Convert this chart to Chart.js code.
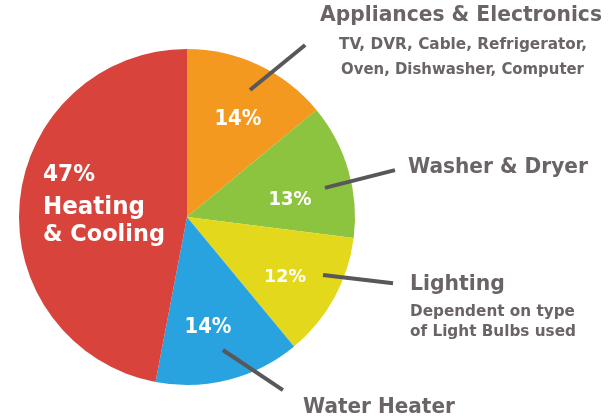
<!DOCTYPE html>
<html>
<head>
<meta charset="utf-8">
<script src="https://cdn.jsdelivr.net/npm/chart.js@4/dist/chart.umd.min.js"></script>
<style>
  html, body { margin: 0; padding: 0; background: #fff; }
  #wrap { width: 616px; height: 416px; position: relative; }
</style>
</head>
<body>
<div id="wrap"><canvas id="chart-energy"></canvas></div>
<script>
const categories = ['Appliances & Electronics', 'Washer & Dryer', 'Lighting', 'Water Heater', 'Heating & Cooling'];
const shares = [14, 13, 12, 14, 47];
const sliceColors = ['#f4991f', '#8cc43f', '#e3d81c', '#29a3df', '#d8433b'];

// side notes under some category names
const notes = [
  ['TV, DVR, Cable, Refrigerator,', 'Oven, Dishwasher, Computer'],
  [],
  ['Dependent on type', 'of Light Bulbs used'],
  [],
  []
];

const GREY = '#6b6465';
const FONT = '"DejaVu Sans", sans-serif';
const STRETCH = 1.05; // the original lettering is a bit taller than DejaVu

// draw bold text so that it spans a given width
function fitText(ctx, text, x, yMid, width, align, color) {
  ctx.font = 'bold 20px ' + FONT;
  const size = 20 * width / ctx.measureText(text).width;
  ctx.save();
  ctx.font = 'bold ' + size.toFixed(2) + 'px ' + FONT;
  ctx.fillStyle = color;
  ctx.textAlign = align;
  ctx.textBaseline = 'alphabetic';
  ctx.translate(x, yMid);
  ctx.scale(1, STRETCH);
  ctx.fillText(text, 0, size * 0.365);
  ctx.restore();
}

function polar(cx, cy, r, deg, frac) {
  const t = (deg - 90) * Math.PI / 180;
  return [cx + Math.cos(t) * r * frac, cy + Math.sin(t) * r * frac];
}

// where the in-slice percentages sit (deg clockwise from top, fraction of radius)
const pctSpots = [[27, 0.668], [79.5, 0.623], [120.6, 0.678], [169, 0.655]];
const pctWidths = [47, 43, 42, 47];
// leader lines, polar from / to
const leaders = [
  [[26.4, 0.844], [34.5, 1.242]],
  [[78.1, 0.839], [77.3, 1.269]],
  [[113.1, 0.88], [107.8, 1.288]],
  [[164.9, 0.82], [151, 1.178]]
];

const labelPlugin = {
  id: 'sliceLabels',
  afterDraw(chart) {
    const ctx = chart.ctx;
    const arc = chart.getDatasetMeta(0).data[0];
    const cx = arc.x, cy = arc.y, r = arc.outerRadius;
    const k = r / 168;
    ctx.save();

    // leader lines
    ctx.strokeStyle = '#58585a';
    ctx.lineWidth = 4;
    ctx.lineCap = 'butt';
    leaders.forEach(([a, b]) => {
      const p = polar(cx, cy, r, a[0], a[1]);
      const q = polar(cx, cy, r, b[0], b[1]);
      ctx.beginPath();
      ctx.moveTo(p[0], p[1]);
      ctx.lineTo(q[0], q[1]);
      ctx.stroke();
    });

    // percentages inside the small slices
    pctSpots.forEach((s, i) => {
      const p = polar(cx, cy, r, s[0], s[1]);
      fitText(ctx, shares[i] + '%', p[0], p[1], pctWidths[i] * k, 'center', '#fff');
    });

    // big slice: percent and name
    const lx = cx - 144 * k;
    fitText(ctx, shares[4] + '%', lx, cy - 44 * k, 52 * k, 'left', '#fff');
    fitText(ctx, 'Heating', lx, cy - 12 * k, 102 * k, 'left', '#fff');
    fitText(ctx, '& Cooling', lx, cy + 15 * k, 122 * k, 'left', '#fff');

    // outside names
    const X = (px) => cx + (px - 187) * k;
    const Y = (py) => cy + (py - 217) * k;
    fitText(ctx, categories[0], X(461), Y(13.5), 282 * k, 'center', GREY);
    fitText(ctx, notes[0][0], X(463), Y(43), 248 * k, 'center', GREY);
    fitText(ctx, notes[0][1], X(462.5), Y(68), 243 * k, 'center', GREY);
    fitText(ctx, categories[1], X(408), Y(165), 180 * k, 'left', GREY);
    fitText(ctx, categories[2], X(410), Y(282), 95 * k, 'left', GREY);
    fitText(ctx, notes[2][0], X(410), Y(310), 165 * k, 'left', GREY);
    fitText(ctx, notes[2][1], X(410), Y(330), 166 * k, 'left', GREY);
    fitText(ctx, categories[3], X(303), Y(405), 152 * k, 'left', GREY);

    ctx.restore();
  }
};

new Chart(document.getElementById('chart-energy'), {
  type: 'pie',
  data: {
    labels: categories,
    datasets: [{
      data: shares,
      backgroundColor: sliceColors,
      borderWidth: 0
    }]
  },
  options: {
    responsive: true,
    maintainAspectRatio: false,
    animation: false,
    layout: { padding: { left: 19, top: 49, right: 261, bottom: 31 } },
    plugins: {
      legend: { display: false },
      tooltip: { enabled: false },
      title: { display: false }
    }
  },
  plugins: [labelPlugin]
});
</script>
</body>
</html>
